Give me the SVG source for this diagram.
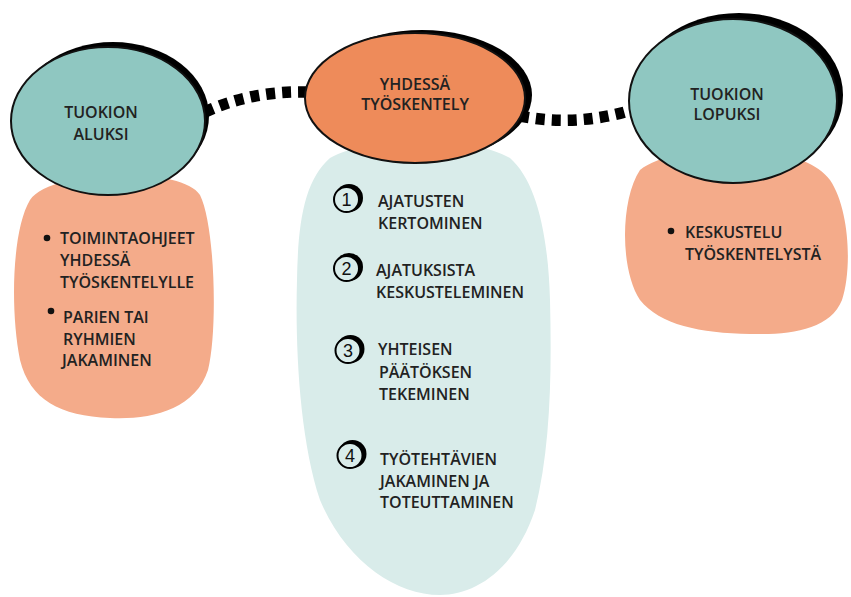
<svg xmlns="http://www.w3.org/2000/svg" width="851" height="597" viewBox="0 0 851 597">
<style>
.t{font-family:"Open Sans","Liberation Sans",sans-serif;font-weight:600;font-size:16px;fill:#222}
.c{text-anchor:middle}
.num{font-family:"Liberation Sans",sans-serif;font-size:18px;fill:#111;text-anchor:middle}
.dash{fill:none;stroke:#000;stroke-width:11.5;stroke-dasharray:9 7}
.teal{fill:#8fc7c1;stroke:#111;stroke-width:2}
.orange{fill:#ee8b5a;stroke:#111;stroke-width:2}
.salmon{fill:#f4ab8a}
.light{fill:#d9ecea}
.sh{fill:#000}
.nc{fill:#d9ecea;stroke:#000;stroke-width:2}
</style>
<rect width="851" height="597" fill="#fff"/>

<g id="connectors">
<path class="dash" d="M 205,112 C 235,98 270,91 308,92"/>
<path class="dash" d="M 520,116 C 560,124 600,120 632,110"/>
</g>

<g id="left-list">
<path class="salmon" d="M 30,200 C 50,170 180,165 200,195 C 215,225 218,330 208,370 C 195,410 150,420 110,418 C 60,416 30,400 20,360 C 10,310 12,230 30,200 Z"/>
<circle cx="47" cy="238" r="3.3" fill="#111"/>
<text class="t" x="60" y="244">TOIMINTAOHJEET</text>
<text class="t" x="60" y="266">YHDESSÄ</text>
<text class="t" x="60" y="288">TYÖSKENTELYLLE</text>
<circle cx="51" cy="311" r="3.3" fill="#111"/>
<text class="t" x="63" y="323">PARIEN TAI</text>
<text class="t" x="63" y="345">RYHMIEN</text>
<text class="t" x="62" y="366">JAKAMINEN</text>
</g>

<g id="middle-list">
<path class="light" d="M 330,158 C 370,135 470,135 510,158 C 535,180 548,230 550,300 C 552,380 550,450 535,510 C 515,570 475,595 440,595 C 395,595 345,560 320,500 C 300,440 295,350 297,280 C 298,220 305,180 330,158 Z"/>
<g id="step1">
<circle class="sh" cx="349" cy="198" r="14"/>
<circle class="nc" cx="346.5" cy="199.5" r="12.5"/>
<text class="num" x="346.5" y="206">1</text>
<text class="t" x="378" y="207">AJATUSTEN</text>
<text class="t" x="378" y="229">KERTOMINEN</text>
</g>
<g id="step2">
<circle class="sh" cx="349" cy="267" r="14"/>
<circle class="nc" cx="346.5" cy="268.5" r="12.5"/>
<text class="num" x="346.5" y="275">2</text>
<text class="t" x="376" y="276">AJATUKSISTA</text>
<text class="t" x="376" y="298">KESKUSTELEMINEN</text>
</g>
<g id="step3">
<circle class="sh" cx="350.5" cy="349" r="14"/>
<circle class="nc" cx="348" cy="350.5" r="12.5"/>
<text class="num" x="348" y="357">3</text>
<text class="t" x="378" y="355">YHTEISEN</text>
<text class="t" x="379" y="378">PÄÄTÖKSEN</text>
<text class="t" x="379" y="400">TEKEMINEN</text>
</g>
<g id="step4">
<circle class="sh" cx="352.5" cy="454" r="14"/>
<circle class="nc" cx="350" cy="455.5" r="12.5"/>
<text class="num" x="350" y="462">4</text>
<text class="t" x="380" y="465">TYÖTEHTÄVIEN</text>
<text class="t" x="380" y="487">JAKAMINEN JA</text>
<text class="t" x="380" y="508">TOTEUTTAMINEN</text>
</g>
</g>

<g id="right-list">
<path class="salmon" d="M 640,170 C 680,140 800,140 830,180 C 850,210 852,270 842,300 C 830,330 790,335 750,334 C 700,333 660,325 640,300 C 620,270 620,200 640,170 Z"/>
<circle cx="671" cy="231" r="3.3" fill="#111"/>
<text class="t" x="685" y="238">KESKUSTELU</text>
<text class="t" x="685" y="260">TYÖSKENTELYSTÄ</text>
</g>

<g id="tuokion-aluksi">
<ellipse class="sh" cx="113" cy="116" rx="96" ry="74"/>
<ellipse class="teal" cx="108" cy="121" rx="97" ry="74"/>
<text class="t c" x="101" y="118">TUOKION</text>
<text class="t c" x="101" y="140">ALUKSI</text>
</g>

<g id="yhdessa-tyoskentely">
<ellipse class="sh" cx="422" cy="95" rx="110" ry="65"/>
<ellipse class="orange" cx="415" cy="98" rx="110" ry="65"/>
<text class="t c" x="415" y="90">YHDESSÄ</text>
<text class="t c" x="415" y="110">TYÖSKENTELY</text>
</g>

<g id="tuokion-lopuksi">
<ellipse class="sh" cx="739" cy="95" rx="104" ry="82"/>
<ellipse class="teal" cx="733" cy="101" rx="104" ry="82"/>
<text class="t c" x="727" y="100">TUOKION</text>
<text class="t c" x="727" y="120">LOPUKSI</text>
</g>
</svg>
